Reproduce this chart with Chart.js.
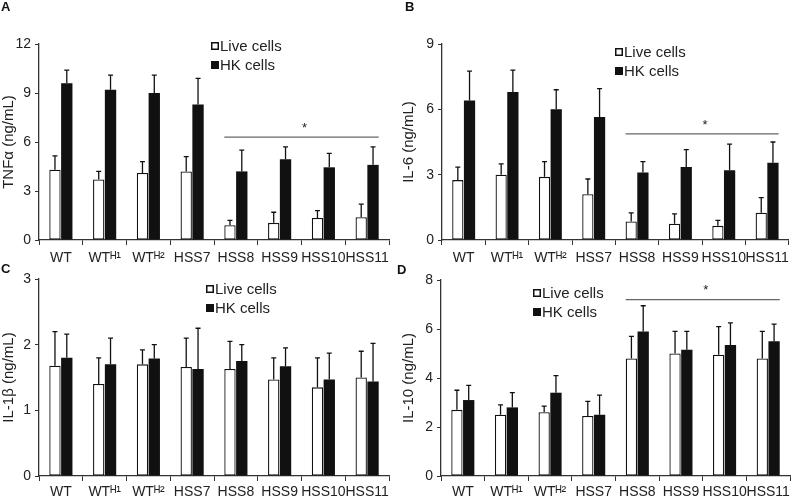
<!DOCTYPE html>
<html lang="en">
<head>
<meta charset="UTF-8">
<title>Cytokine production by live and HK cells</title>
<script src="https://cdn.jsdelivr.net/npm/chart.js"></script>
<style>
  body { margin: 0; background: #fff; font-family: 'Liberation Sans', Arial, sans-serif; }
  #wrap { position: relative; width: 794px; height: 496px; overflow: hidden; }
  canvas { position: absolute; }
  .tag { position: absolute; font-weight: bold; font-size: 13px; color: #111; }
</style>
</head>
<body>
<div id="wrap">
  <canvas id="chartA" width="397" height="270" style="left:0;top:0"></canvas>
  <canvas id="chartB" width="394" height="270" style="left:400px;top:0"></canvas>
  <canvas id="chartC" width="397" height="246" style="left:0;top:250px"></canvas>
  <canvas id="chartD" width="394" height="246" style="left:400px;top:250px"></canvas>
  <div class="tag" style="left:1px;top:-1px">A</div>
  <div class="tag" style="left:405px;top:-1px">B</div>
  <div class="tag" style="left:1px;top:261px">C</div>
  <div class="tag" style="left:397px;top:262px">D</div>
</div>
<script>
// categories
const strains = ['WT', 'WTᴴ¹', 'WTᴴ²', 'HSS7', 'HSS8', 'HSS9', 'HSS10', 'HSS11'];

// A: TNFα (ng/mL)
const tnfLive    = [4.3, 3.7, 4.1, 4.2, 0.9, 1.05, 1.35, 1.4];
const tnfLiveErr = [0.85, 0.5, 0.7, 0.9, 0.3, 0.65, 0.45, 0.8];
const tnfHK      = [9.6, 9.2, 9.0, 8.3, 4.2, 4.95, 4.45, 4.6];
const tnfHKErr   = [0.8, 0.9, 1.1, 1.6, 1.3, 0.75, 0.85, 1.1];

// B: IL-6 (ng/mL)
const il6Live    = [2.75, 3.0, 2.9, 2.1, 0.85, 0.75, 0.65, 1.25];
const il6LiveErr = [0.6, 0.5, 0.7, 0.7, 0.4, 0.45, 0.25, 0.7];
const il6HK      = [6.4, 6.8, 6.0, 5.65, 3.1, 3.35, 3.2, 3.55];
const il6HKErr   = [1.35, 1.0, 0.9, 1.3, 0.5, 0.8, 1.2, 0.95];

// C: IL-1β (ng/mL)
const il1Live    = [1.68, 1.4, 1.7, 1.66, 1.63, 1.47, 1.35, 1.5];
const il1LiveErr = [0.52, 0.4, 0.22, 0.44, 0.42, 0.33, 0.45, 0.4];
const il1HK      = [1.8, 1.7, 1.79, 1.63, 1.75, 1.67, 1.47, 1.44];
const il1HKErr   = [0.36, 0.4, 0.21, 0.62, 0.25, 0.28, 0.4, 0.58];

// D: IL-10 (ng/mL)
const il10Live    = [2.7, 2.5, 2.6, 2.45, 4.8, 5.0, 4.95, 4.8];
const il10LiveErr = [0.8, 0.4, 0.25, 0.6, 0.9, 0.9, 1.15, 1.1];
const il10HK      = [3.1, 2.8, 3.4, 2.5, 5.9, 5.15, 5.35, 5.5];
const il10HKErr   = [0.6, 0.6, 0.7, 0.8, 1.05, 0.75, 0.9, 0.7];

// significance bar: first/last group index and level on the y scale
const sigGroups = [4, 7];
const sigA = 6.3, sigB = 4.87, sigD = 7.2;

const seriesNames = ['Live cells', 'HK cells'];
const ink = '#111';
const family = '"Liberation Sans", Arial, sans-serif';

// upward error bars drawn from the bar tops
const errorBars = {
  id: 'errorBars',
  afterDatasetsDraw(chart) {
    const ctx = chart.ctx, y = chart.scales.y;
    chart.data.datasets.forEach((ds, i) => {
      chart.getDatasetMeta(i).data.forEach((bar, j) => {
        const top = y.getPixelForValue(ds.data[j] + ds.errors[j]);
        ctx.save();
        ctx.strokeStyle = ink;
        ctx.lineWidth = 1.3;
        ctx.beginPath();
        ctx.moveTo(bar.x, bar.y);
        ctx.lineTo(bar.x, top);
        ctx.moveTo(bar.x - 2.5, top);
        ctx.lineTo(bar.x + 2.5, top);
        ctx.stroke();
        ctx.restore();
      });
    });
  }
};

// horizontal line with a star over the HSS8..HSS11 groups
const sigLine = {
  id: 'sigLine',
  afterDatasetsDraw(chart, args, opts) {
    if (opts.value == null) return;
    const ctx = chart.ctx;
    const y = chart.scales.y.getPixelForValue(opts.value);
    const a = chart.getDatasetMeta(0).data[sigGroups[0]];
    const b = chart.getDatasetMeta(1).data[sigGroups[1]];
    const x0 = a.x - a.width / 2, x1 = b.x + b.width / 2;
    ctx.save();
    ctx.strokeStyle = '#666';
    ctx.lineWidth = 1.3;
    ctx.beginPath();
    ctx.moveTo(x0, y);
    ctx.lineTo(x1, y);
    ctx.stroke();
    ctx.fillStyle = '#222';
    ctx.font = '13px ' + family;
    ctx.textAlign = 'center';
    ctx.textBaseline = 'middle';
    ctx.fillText('*', (x0 + x1) / 2 + 3, y - 9);
    ctx.restore();
  }
};

// small square legend placed inside the plot
const boxLegend = {
  id: 'boxLegend',
  afterDraw(chart, args, opts) {
    const ctx = chart.ctx;
    ctx.save();
    ctx.font = '15px ' + family;
    ctx.textBaseline = 'middle';
    chart.data.datasets.forEach((ds, i) => {
      const cy = opts.y + i * 19;
      ctx.fillStyle = ds.backgroundColor;
      ctx.fillRect(opts.x - 4, cy - 4, 8, 8);
      if (ds.borderWidth) {
        ctx.strokeStyle = ink;
        ctx.lineWidth = 1.5;
        ctx.strokeRect(opts.x - 3.25, cy - 3.25, 6.5, 6.5);
      }
      ctx.fillStyle = '#222';
      ctx.fillText(ds.label, opts.x + 5, cy + 1);
    });
    ctx.restore();
  }
};

function makeChart(id, live, liveErr, hk, hkErr, cfg) {
  return new Chart(document.getElementById(id), {
    type: 'bar',
    data: {
      labels: strains,
      datasets: [
        { label: seriesNames[0], data: live, errors: liveErr, backgroundColor: '#fff', borderColor: ink, borderWidth: 1.3, borderSkipped: false },
        { label: seriesNames[1], data: hk, errors: hkErr, backgroundColor: ink, borderWidth: 0 }
      ]
    },
    options: {
      responsive: false,
      animation: false,
      datasets: { bar: { categoryPercentage: 0.54, barPercentage: 0.96 } },
      layout: { padding: { top: cfg.padTop, right: cfg.padRight, left: 0, bottom: 0 } },
      plugins: {
        legend: { display: false },
        tooltip: { enabled: false },
        sigLine: { value: cfg.sig },
        boxLegend: cfg.legend
      },
      scales: {
        x: {
          afterFit: s => { s.height = cfg.xHeight; },
          grid: { offset: true, drawOnChartArea: false, tickLength: 5, color: '#333' },
          border: { color: '#333', width: 1.3 },
          ticks: { color: '#222', padding: cfg.xPad, font: { size: 14, family: family }, maxRotation: 0, autoSkip: false }
        },
        y: {
          min: 0, max: cfg.max,
          afterFit: s => { s.width = cfg.yWidth; },
          grid: { drawOnChartArea: false, tickLength: 4, color: '#333' },
          border: { color: '#333', width: 1.3 },
          ticks: { stepSize: cfg.step, color: '#222', padding: 4, font: { size: 14, family: family } },
          title: { display: true, text: cfg.title, color: '#222', padding: { top: 0, bottom: 0 }, font: { size: 15, family: family } }
        }
      }
    },
    plugins: [errorBars, sigLine, boxLegend]
  });
}

makeChart('chartA', tnfLive, tnfLiveErr, tnfHK, tnfHKErr,
  { max: 12, step: 3, title: 'TNFα (ng/mL)', sig: sigA, padTop: 44, padRight: 8, xHeight: 30, xPad: 5, yWidth: 39, legend: { x: 215, y: 46 } });
makeChart('chartB', il6Live, il6LiveErr, il6HK, il6HKErr,
  { max: 9, step: 3, title: 'IL-6 (ng/mL)', sig: sigB, padTop: 44, padRight: 4, xHeight: 30, xPad: 5, yWidth: 42, legend: { x: 219, y: 52 } });
makeChart('chartC', il1Live, il1LiveErr, il1HK, il1HKErr,
  { max: 3, step: 1, title: 'IL-1β (ng/mL)', sig: null, padTop: 29, padRight: 8, xHeight: 20, xPad: 3, yWidth: 39, legend: { x: 210, y: 39 } });
makeChart('chartD', il10Live, il10LiveErr, il10HK, il10HKErr,
  { max: 8, step: 2, title: 'IL-10 (ng/mL)', sig: sigD, padTop: 30, padRight: 4, xHeight: 20, xPad: 3, yWidth: 41, legend: { x: 137, y: 43 } });
</script>
</body>
</html>
